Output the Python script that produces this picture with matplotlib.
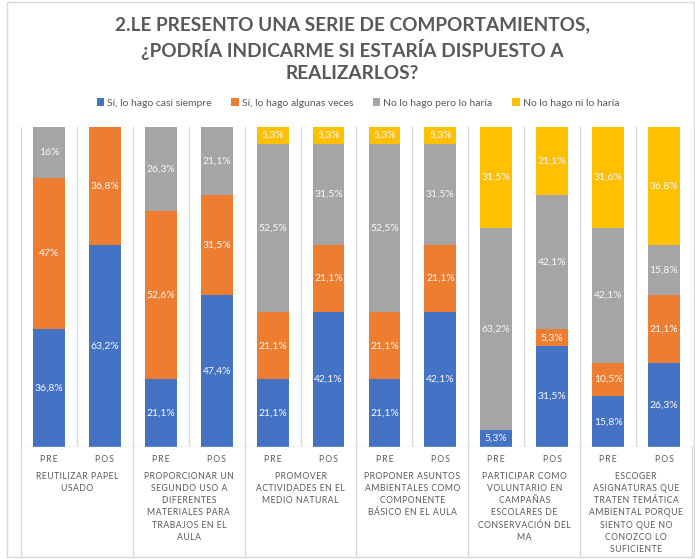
import numpy as np
import matplotlib
matplotlib.use('Agg')
import matplotlib.pyplot as plt
from matplotlib.patches import Rectangle
from matplotlib.transforms import blended_transform_factory

plt.rcParams['font.family'] = ['Lato', 'DejaVu Sans']

TITLE = '2.LE PRESENTO UNA SERIE DE COMPORTAMIENTOS,\n¿PODRÍA INDICARME SI ESTARÍA DISPUESTO A\nREALIZARLOS?'
SERIES = ['Sí, lo hago casi siempre', 'Sí, lo hago algunas veces',
          'No lo hago pero lo haría', 'No lo hago ni lo haría']
COLORS = ['#4472C4', '#ED7D31', '#A5A5A5', '#FFC000']
PHASES = ['PRE', 'POS']
GROUPS = [
    'REUTILIZAR PAPEL\nUSADO',
    'PROPORCIONAR UN\nSEGUNDO USO A\nDIFERENTES\nMATERIALES PARA\nTRABAJOS EN EL\nAULA',
    'PROMOVER\nACTIVIDADES EN EL\nMEDIO NATURAL',
    'PROPONER ASUNTOS\nAMBIENTALES COMO\nCOMPONENTE\nBÁSICO EN EL AULA',
    'PARTICIPAR COMO\nVOLUNTARIO EN\nCAMPAÑAS\nESCOLARES DE\nCONSERVACIÓN DEL\nMA',
    'ESCOGER\nASIGNATURAS QUE\nTRATEN TEMÁTICA\nAMBIENTAL PORQUE\nSIENTO QUE NO\nCONOZCO LO\nSUFICIENTE',
]

siempre  = [36.8, 63.2, 21.1, 47.4, 21.1, 42.1, 21.1, 42.1, 5.3, 31.5, 15.8, 26.3]
algunas  = [47.0, 36.8, 52.6, 31.5, 21.1, 21.1, 21.1, 21.1, 0.0, 5.3, 10.5, 21.1]
pero     = [16.0, 0.0, 26.3, 21.1, 52.5, 31.5, 52.5, 31.5, 63.2, 42.1, 42.1, 15.8]
ni       = [0.0, 0.0, 0.0, 0.0, 5.3, 5.3, 5.3, 5.3, 31.5, 21.1, 31.6, 36.8]

GRID = '#D9D9D9'
TXT = '#595959'


def spaced(s, sep='\u200a'):
    return '\n'.join(sep.join(line) for line in s.split('\n'))


def fmt(v):
    return f'{v:g}'.replace('.', ',') + '%'


vals = np.array([siempre, algunas, pero, ni])
frac = vals / vals.sum(axis=0)
x = np.arange(vals.shape[1])

fig = plt.figure(figsize=(6.95, 5.59), dpi=100)
ax = fig.add_axes([21/695, 112/559, 671/695, 320/559])

bottom = np.zeros(len(x))
for i in range(4):
    ax.bar(x, frac[i], 0.57, bottom=bottom, color=COLORS[i], label=SERIES[i], zorder=2)
    for xi, f, b, v in zip(x, frac[i], bottom, vals[i]):
        if v > 0:
            ax.text(xi, b + f/2, fmt(v), ha='center', va='center', color='#F8F8F8', fontsize=7.5)
    bottom += frac[i]

ax.set_xlim(-0.5, len(x) - 0.5)
ax.set_ylim(0, 1)
ax.set_xticks([])
ax.set_yticks([])
for s in ax.spines.values():
    s.set_visible(False)
ax.axhline(0, color=GRID, lw=1, zorder=3)

# vertical gridlines between bars
for xb in np.arange(-0.5, len(x), 1.0):
    ax.axvline(xb, color=GRID, lw=1, zorder=1)

tr = blended_transform_factory(ax.transData, ax.transAxes)
# group separators through the category label area
for xb in np.arange(-0.5, len(x) + 0.5, 2.0):
    ax.plot([xb, xb], [0, -110/320], color=GRID, lw=1, transform=tr, clip_on=False)

for xi in x:
    ax.text(xi, -12/320, spaced(PHASES[xi % 2], '\u2009'), ha='center', va='center',
            fontsize=6.2, color=TXT, transform=tr)
for g, lab in enumerate(GROUPS):
    ax.text(2*g + 0.5, -25/320, spaced(lab), ha='center', va='top', fontsize=6.2,
            color=TXT, transform=tr, linespacing=1.45)

fig.text(0.507, 1 - 16/559, TITLE, ha='center', va='top', fontsize=13.7, fontweight='bold',
         color=TXT, linespacing=1.35)

fig.legend(loc='center', bbox_to_anchor=(0.515, 1 - 103/559), ncol=4, frameon=False,
           fontsize=7.5, labelcolor=TXT, handlelength=0.7, handleheight=0.7,
           handletextpad=0.3, columnspacing=1.9)

fig.patches.append(Rectangle((7/695, 2/559), 687/695, 555/559, transform=fig.transFigure,
                             fill=False, edgecolor=GRID, lw=1))

fig.savefig('out.png', dpi=100)
